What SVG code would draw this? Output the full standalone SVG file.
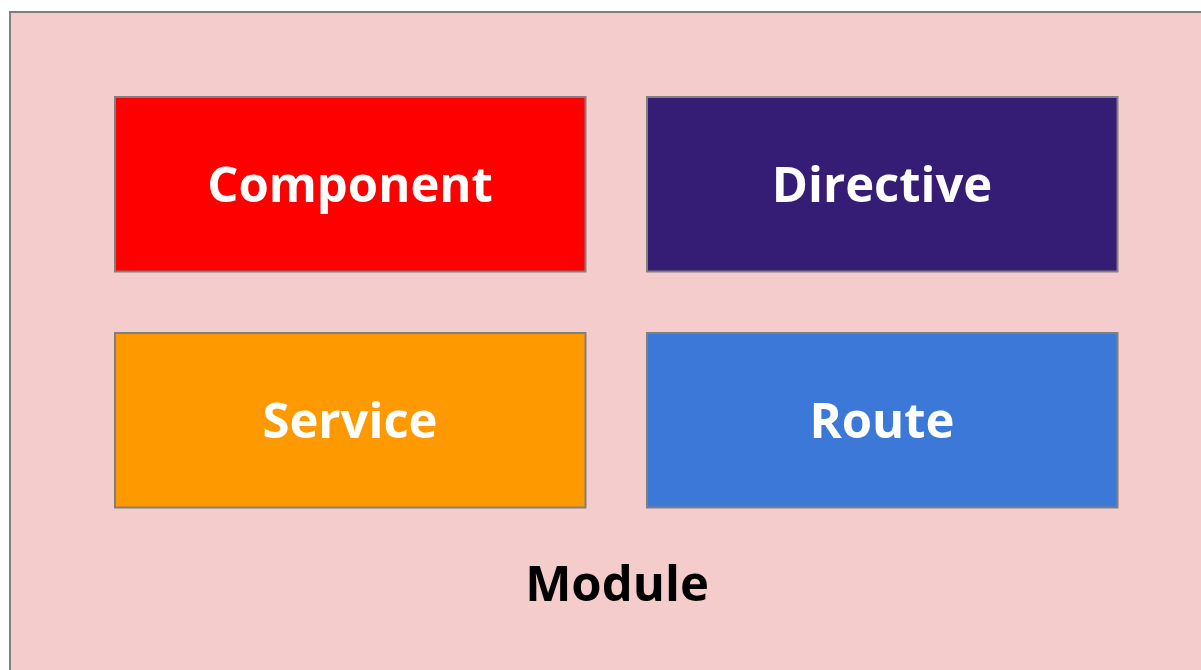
<svg xmlns="http://www.w3.org/2000/svg" width="1201" height="670" viewBox="0 0 1201 670">
<style>
.box{stroke:#7f7f7f;stroke-width:2}
.lbl{font-family:"Open Sans","Noto Sans",sans-serif;font-weight:bold;font-size:49px;fill:#ffffff;text-anchor:middle}
.mod{font-family:"Open Sans","Noto Sans",sans-serif;font-weight:bold;font-size:49px;fill:#000000;text-anchor:middle}
</style>
<rect width="1201" height="670" fill="#ffffff"/>
<g id="module">
<rect x="10" y="12" width="1200" height="670" fill="#f4cccc" stroke="#7f7f7f" stroke-width="2"/>
<text class="mod" x="617" y="601">Module</text>
</g>
<g id="component">
<rect class="box" x="115" y="97" width="470.5" height="174.5" fill="#ff0000"/>
<text class="lbl" x="350" y="202">Component</text>
</g>
<g id="directive">
<rect class="box" x="647" y="97" width="470.5" height="174.5" fill="#351c75"/>
<text class="lbl" x="882" y="202">Directive</text>
</g>
<g id="service">
<rect class="box" x="115" y="333" width="470.5" height="174.5" fill="#ff9900"/>
<text class="lbl" x="350" y="438">Service</text>
</g>
<g id="route">
<rect class="box" x="647" y="333" width="470.5" height="174.5" fill="#3c78d8"/>
<text class="lbl" x="882" y="438">Route</text>
</g>
<g id="connectors"></g>
</svg>
